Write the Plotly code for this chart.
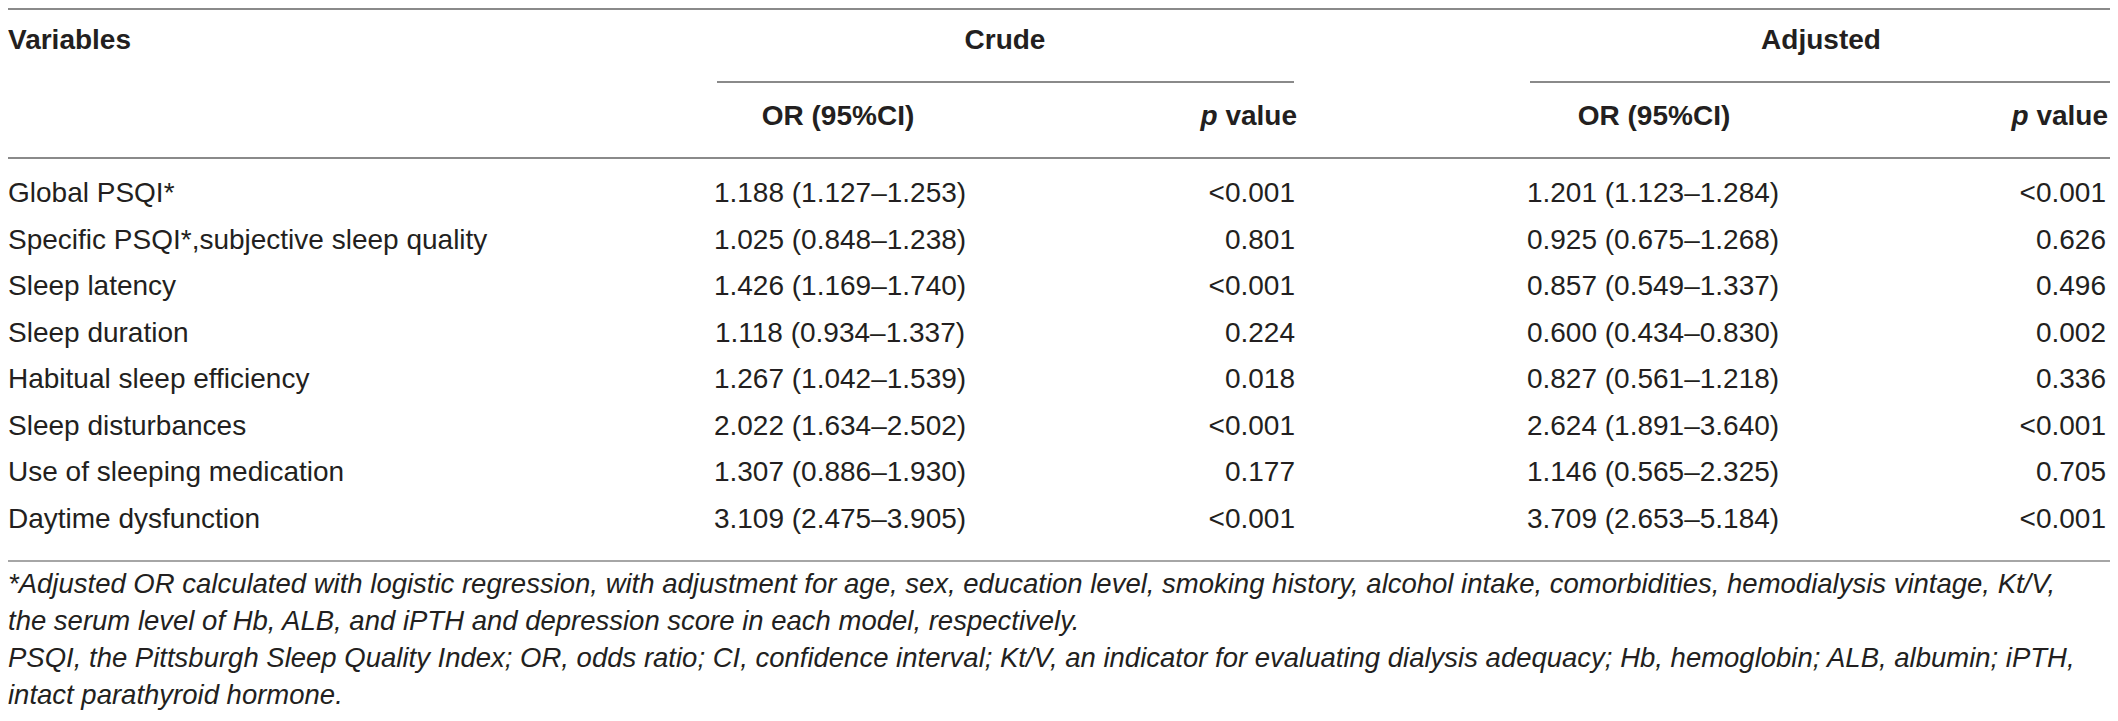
import plotly.graph_objects as go

# table data
variables = ["Global PSQI*", "Specific PSQI*,subjective sleep quality", "Sleep latency",
             "Sleep duration", "Habitual sleep efficiency", "Sleep disturbances",
             "Use of sleeping medication", "Daytime dysfunction"]
crude_or = ["1.188 (1.127–1.253)", "1.025 (0.848–1.238)", "1.426 (1.169–1.740)",
            "1.118 (0.934–1.337)", "1.267 (1.042–1.539)", "2.022 (1.634–2.502)",
            "1.307 (0.886–1.930)", "3.109 (2.475–3.905)"]
crude_p = ["<0.001", "0.801", "<0.001", "0.224", "0.018", "<0.001", "0.177", "<0.001"]
adj_or = ["1.201 (1.123–1.284)", "0.925 (0.675–1.268)", "0.857 (0.549–1.337)",
          "0.600 (0.434–0.830)", "0.827 (0.561–1.218)", "2.624 (1.891–3.640)",
          "1.146 (0.565–2.325)", "3.709 (2.653–5.184)"]
adj_p = ["<0.001", "0.626", "0.496", "0.002", "0.336", "<0.001", "0.705", "<0.001"]

group_labels = ["Crude", "Adjusted"]
sub_labels = ["OR (95%CI)", "<i>p</i> value", "OR (95%CI)", "<i>p</i> value"]

footnote_lines = [
    "*Adjusted OR calculated with logistic regression, with adjustment for age, sex, education level, smoking history, alcohol intake, comorbidities, hemodialysis vintage, Kt/V,",
    "the serum level of Hb, ALB, and iPTH and depression score in each model, respectively.",
    "PSQI, the Pittsburgh Sleep Quality Index; OR, odds ratio; CI, confidence interval; Kt/V, an indicator for evaluating dialysis adequacy; Hb, hemoglobin; ALB, albumin; iPTH,",
    "intact parathyroid hormone.",
]

W, H = 2118, 721
OFF = 8  # default body margin of the html page
FONT = "Liberation Sans"
TXT = "#231f20"
RULE = "#8a8a8a"
LEFT = 8

row0, step = 195, 46.5
rows_y = [row0 + i * step for i in range(len(variables))]

fig = go.Figure()


def rule(x0, x1, y, color=RULE, w=2):
    fig.add_trace(go.Scatter(x=[x0, x1], y=[y, y], mode="lines", cliponaxis=False,
                             line=dict(color=color, width=w), hoverinfo="skip"))


def col(xs, ys, texts, pos, size=28, italic=False):
    fig.add_trace(go.Scatter(x=xs, y=ys, text=texts, mode="text", textposition=pos,
                             textfont=dict(family=FONT, size=size, color=TXT,
                                           style="italic" if italic else "normal"),
                             hoverinfo="skip", cliponaxis=False))


# rules
rule(LEFT, 2110, 9)
rule(717, 1294, 82)
rule(1530, 2110, 82)
rule(LEFT, 2110, 158)
rule(LEFT, 2110, 561, color="#a6a6a6")

# header
col([LEFT], [42], ["<b>Variables</b>"], "middle right")
col([1005, 1821], [42, 42], [f"<b>{g}</b>" for g in group_labels], "middle center")
col([838, 1654], [118, 118], [f"<b>{sub_labels[0]}</b>", f"<b>{sub_labels[2]}</b>"], "middle center")
col([1297, 2108], [118, 118], [f"<b>{sub_labels[1]}</b>", f"<b>{sub_labels[3]}</b>"], "middle left")

# body
n = len(variables)
col([LEFT] * n, rows_y, variables, "middle right")
col([840] * n, rows_y, crude_or, "middle center")
col([1295] * n, rows_y, crude_p, "middle left")
col([1653] * n, rows_y, adj_or, "middle center")
col([2106] * n, rows_y, adj_p, "middle left")

# footnotes
foot_y = [586 + i * 37 for i in range(len(footnote_lines))]
col([LEFT] * len(footnote_lines), foot_y, footnote_lines, "middle right", size=27.5, italic=True)

fig.update_xaxes(range=[OFF, W - OFF], visible=False, fixedrange=True)
fig.update_yaxes(range=[H - OFF, OFF], visible=False, fixedrange=True)
fig.update_layout(width=W - 2 * OFF, height=H - 2 * OFF,
                  margin=dict(l=0, r=0, t=0, b=0, pad=0),
                  paper_bgcolor="white", plot_bgcolor="white", showlegend=False)

fig.write_html("out.html")
